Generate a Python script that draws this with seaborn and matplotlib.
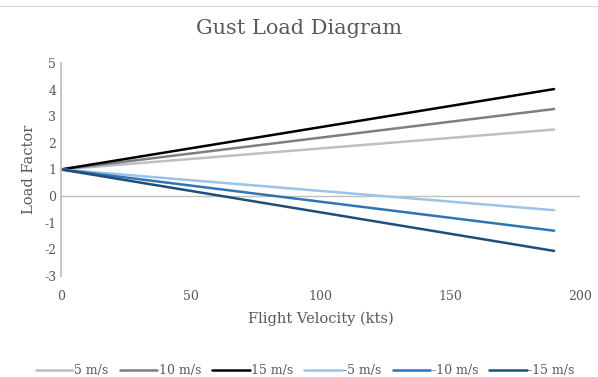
import matplotlib
matplotlib.use("Agg")
import matplotlib.pyplot as plt
import seaborn as sns
import pandas as pd
from matplotlib.lines import Line2D

velocity = [0, 190]
series_names = ["5 m/s", "10 m/s", "15 m/s", "-5 m/s", "-10 m/s", "-15 m/s"]
n_5 = [1.0, 2.50]
n_10 = [1.0, 3.27]
n_15 = [1.0, 4.02]
n_m5 = [1.0, -0.53]
n_m10 = [1.0, -1.30]
n_m15 = [1.0, -2.06]
colors = ["#bfbfbf", "#7f7f7f", "#000000", "#9dc3e6", "#2e75b6", "#1f4e79"]

rows = []
for name, vals in zip(series_names, [n_5, n_10, n_15, n_m5, n_m10, n_m15]):
    for v, n in zip(velocity, vals):
        rows.append({"Velocity": v, "Load": n, "Series": name})
df = pd.DataFrame(rows)

sns.set_theme(style="white")
plt.rcParams['font.family'] = ['DejaVu Serif']
plt.rcParams['axes.unicode_minus'] = False
txt = "#595959"

fig = plt.figure(figsize=(5.98, 3.77), dpi=100)
ax = fig.add_axes([0.102, 0.268, 0.868, 0.565])
ax.axhline(0, color="#bfbfbf", lw=1, zorder=0)
sns.lineplot(data=df, x="Velocity", y="Load", hue="Series", hue_order=series_names,
             palette=colors, ax=ax, linewidth=1.8)

ax.set_xlim(0, 200)
ax.set_ylim(-3, 5)
ax.set_xticks([0, 50, 100, 150, 200])
ax.set_yticks(range(-3, 6))
for s in ["top", "right", "bottom"]:
    ax.spines[s].set_visible(False)
ax.spines["left"].set_color("#bfbfbf")
ax.tick_params(axis="both", colors=txt, labelsize=9, length=0)
ax.tick_params(axis="x", pad=10)
ax.set_xlabel("Flight Velocity (kts)", color=txt, fontsize=10.5, labelpad=6)
ax.set_ylabel("Load Factor", color=txt, fontsize=10.5, labelpad=6)
fig.suptitle("Gust Load Diagram", color=txt, fontsize=15, y=0.95)

ax.legend(loc="upper center", bbox_to_anchor=(0.47, -0.36), ncol=6, frameon=False,
          fontsize=9, handlelength=3.0, handletextpad=0.1, columnspacing=0.9, labelcolor=txt)

fig.add_artist(Line2D([0.0, 1.0], [0.984, 0.984], transform=fig.transFigure,
                      color="#d9d9d9", lw=1))
fig.savefig("out.png", dpi=100)
